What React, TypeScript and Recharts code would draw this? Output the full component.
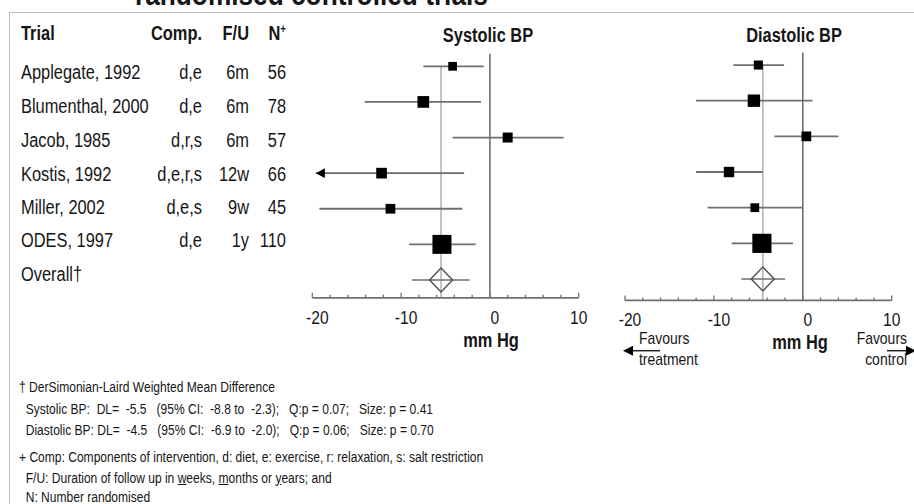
import React from 'react';
import { ScatterChart, Scatter, XAxis, YAxis, ReferenceLine } from 'recharts';

// ---------- data ----------
const trialNames = ['Applegate, 1992', 'Blumenthal, 2000', 'Jacob, 1985', 'Kostis, 1992', 'Miller, 2002', 'ODES, 1997'];
const components = ['d,e', 'd,e', 'd,r,s', 'd,e,r,s', 'd,e,s', 'd,e'];
const followUps = ['6m', '6m', '6m', '12w', '9w', '1y'];
const randomised = ['56', '78', '57', '66', '45', '110'];
const overallLabel = 'Overall\u2020';

const sysEst = [-4.2, -7.5, 2.0, -12.2, -11.2, -5.4];
const sysLow = [-7.5, -14.1, -4.2, -22.0, -19.2, -9.1];
const sysHigh = [-0.7, -1.0, 8.3, -2.9, -3.1, -1.6];
const sysWeight = [8.6, 15.5, 11.3, 12.9, 10.7, 40.9];
const sysOverall = [-5.5, -8.8, -2.3];

const diaEst = [-5.0, -5.5, 0.4, -8.3, -5.4, -4.6];
const diaLow = [-7.8, -12.0, -3.2, -12.0, -10.7, -8.0];
const diaHigh = [-2.1, 1.1, 4.0, -4.5, 0.0, -1.1];
const diaWeight = [9.3, 17.4, 10.8, 12.2, 8.7, 41.5];
const diaOverall = [-4.5, -6.9, -2.0];

const xTicks = [-20, -18, -16, -14, -12, -10, -8, -6, -4, -2, 0, 2, 4, 6, 8, 10];
const xDomain = [-20, 10];
const arrowLimit = -19.6;

const footnotes = [
  '\u2020 DerSimonian-Laird Weighted Mean Difference',
  '  Systolic BP:  DL=  -5.5   (95% CI:  -8.8 to  -2.3);   Q:p = 0.07;   Size: p = 0.41',
  '  Diastolic BP: DL=  -4.5   (95% CI:  -6.9 to  -2.0);   Q:p = 0.06;   Size: p = 0.70',
  '+ Comp: Components of intervention, d: diet, e: exercise, r: relaxation, s: salt restriction',
];

// ---------- styling ----------
const FONT = "'Liberation Sans', Arial, sans-serif";
const NARROW = 0.82;
const TXT = '#161616';
const LINE = '#6f6f6f';

type Study = { x: number; y: number; low: number; high: number; weight: number };

function buildStudies(est: number[], low: number[], high: number[], w: number[]): Study[] {
  return est.map((e, i) => ({ x: e, y: i + 1, low: low[i], high: high[i], weight: w[i] }));
}

const SquareShape = (props: any) => {
  const { cx, cy, payload } = props;
  const side = 2.97 * Math.sqrt(payload.weight);
  return <rect x={cx - side / 2} y={cy - side / 2} width={side} height={side} fill="#000" />;
};

const DiamondShape = (props: any) => {
  const { cx, cy } = props;
  return (
    <path
      d={`M${cx},${cy - 12} L${cx + 11.5},${cy} L${cx},${cy + 12} L${cx - 11.5},${cy} Z`}
      fill="none"
      stroke="#555"
      strokeWidth={1.5}
    />
  );
};

const LeftArrowShape = (props: any) => {
  const { cx, cy } = props;
  return <path d={`M${cx},${cy} L${cx + 9},${cy - 4.8} L${cx + 9},${cy + 4.8} Z`} fill="#000" />;
};

const AxisTick = (props: any) => {
  const { x, y, payload } = props;
  const v = payload.value;
  const major = v % 10 === 0;
  return (
    <g>
      <line x1={x} y1={y} x2={x} y2={y - (major ? 5 : 3)} stroke={LINE} strokeWidth={1.3} />
      {major && (
        <text
          transform={`translate(${x + (v <= 0 ? 5 : 0)} ${y + 26}) scale(${NARROW} 1)`}
          textAnchor="middle"
          fontSize={19}
          fontFamily={FONT}
          fill={TXT}
        >
          {v}
        </text>
      )}
    </g>
  );
};

type PanelProps = {
  est: number[]; low: number[]; high: number[]; weight: number[]; overall: number[];
  left: number; marginLeft: number; marginRight: number; marginTop: number; marginBottom: number; yMax: number;
};

const Panel = ({ est, low, high, weight, overall, left, marginLeft, marginRight, marginTop, marginBottom, yMax }: PanelProps) => {
  const studies = buildStudies(est, low, high, weight);
  const overallRow = studies.length + 1;
  const overallPoint = [{ x: overall[0], y: overallRow }];
  const arrows = studies.filter((s) => s.low < xDomain[0]).map((s) => ({ x: arrowLimit, y: s.y }));
  return (
    <div style={{ position: 'absolute', left, top: 0 }}>
      <ScatterChart
        width={300}
        height={370}
        margin={{ top: marginTop, right: marginRight, bottom: marginBottom, left: marginLeft }}
      >
        <XAxis
          type="number"
          dataKey="x"
          domain={xDomain}
          ticks={xTicks}
          interval={0}
          allowDataOverflow
          tickLine={false}
          tickSize={0}
          tickMargin={0}
          height={40}
          axisLine={{ stroke: LINE, strokeWidth: 1.8 }}
          tick={<AxisTick />}
        />
        <YAxis type="number" dataKey="y" domain={[0.5, yMax]} reversed hide allowDataOverflow />
        <ReferenceLine segment={[{ x: 0, y: 0.65 }, { x: 0, y: yMax }]} stroke={LINE} strokeWidth={1.6} />
        <ReferenceLine segment={[{ x: overall[0], y: 1 }, { x: overall[0], y: yMax }]} stroke="#b4b4b4" strokeWidth={1.6} />
        {studies.map((s) => (
          <ReferenceLine
            key={`ci${s.y}`}
            segment={[{ x: Math.max(s.low, arrowLimit), y: s.y }, { x: s.high, y: s.y }]}
            stroke={LINE}
            strokeWidth={1.8}
          />
        ))}
        <ReferenceLine
          segment={[{ x: overall[1], y: overallRow }, { x: overall[2], y: overallRow }]}
          stroke={LINE}
          strokeWidth={1.6}
        />
        <Scatter data={arrows} shape={<LeftArrowShape />} isAnimationActive={false} />
        <Scatter data={studies} shape={<SquareShape />} isAnimationActive={false} />
        <Scatter data={overallPoint} shape={<DiamondShape />} isAnimationActive={false} />
      </ScatterChart>
    </div>
  );
};

type TProps = {
  x: number; y: number; size: number; align?: 'left' | 'right' | 'center'; bold?: boolean; lh?: number;
  children: React.ReactNode;
};

// narrow (condensed) text, anchored at x, vertically centred at y
const T = ({ x, y, size, align = 'left', bold = false, lh, children }: TProps) => {
  const W = 700;
  const lineH = lh ?? Math.round(size * 1.2);
  const left = align === 'left' ? x : align === 'right' ? x - W : x - W / 2;
  return (
    <div
      style={{
        position: 'absolute',
        left,
        top: y - lineH / 2,
        width: W,
        height: lineH,
        textAlign: align,
        whiteSpace: 'pre',
        fontFamily: FONT,
        fontSize: size,
        fontWeight: bold ? 'bold' : 'normal',
        lineHeight: `${lineH}px`,
        color: TXT,
        transform: `scaleX(${NARROW})`,
        transformOrigin: align === 'left' ? 'left center' : align === 'right' ? 'right center' : 'center center',
      }}
    >
      {children}
    </div>
  );
};

export default function App() {
  const rowCenters = [71.7, 106, 139.5, 173.5, 207, 240, 274];
  const colRight = { comp: 202, fu: 249, n: 286 };
  const fs = 20;
  const ffs = 14.7;
  return (
    <div style={{ position: 'absolute', left: 0, top: 0, width: 914, height: 504, background: '#fff', overflow: 'hidden' }}>
      {/* frame */}
      <div style={{ position: 'absolute', left: 9, top: 12, width: 905, height: 0, borderTop: '1.5px solid #bdbdbd' }} />
      <div style={{ position: 'absolute', left: 9, top: 12, width: 0, height: 492, borderLeft: '1.5px solid #bdbdbd' }} />
      {/* title, cut off at the top edge as in the source image */}
      <T x={135} y={-6.5} size={32} bold lh={22}>randomised controlled trials</T>

      {/* table header */}
      <T x={21} y={33} size={fs} bold>Trial</T>
      <T x={colRight.comp} y={33} size={fs} bold align="right">Comp.</T>
      <T x={colRight.fu} y={33} size={fs} bold align="right">F/U</T>
      <T x={colRight.n} y={33} size={fs} bold align="right">
        N<sup style={{ fontSize: 12, verticalAlign: 'top', lineHeight: '16px' }}>+</sup>
      </T>
      {trialNames.map((t, i) => (
        <React.Fragment key={t}>
          <T x={21} y={rowCenters[i]} size={fs}>{t}</T>
          <T x={colRight.comp} y={rowCenters[i]} size={fs} align="right">{components[i]}</T>
          <T x={colRight.fu} y={rowCenters[i]} size={fs} align="right">{followUps[i]}</T>
          <T x={colRight.n} y={rowCenters[i]} size={fs} align="right">{randomised[i]}</T>
        </React.Fragment>
      ))}
      <T x={21} y={rowCenters[6]} size={fs}>{overallLabel}</T>

      {/* panels */}
      <Panel est={sysEst} low={sysLow} high={sysHigh} weight={sysWeight} overall={sysOverall}
        left={300} marginLeft={12.3} marginRight={21.3} marginTop={48.5} marginBottom={32.2} yMax={7.5} />
      <Panel est={diaEst} low={diaLow} high={diaHigh} weight={diaWeight} overall={diaOverall}
        left={610} marginLeft={15} marginRight={18.3} marginTop={47.2} marginBottom={29.6} yMax={7.6} />

      {/* panel titles */}
      <T x={488} y={35} size={fs} bold align="center">Systolic BP</T>
      <T x={793.5} y={35} size={fs} bold align="center">Diastolic BP</T>
      <T x={491.3} y={340} size={fs} bold align="center">mm Hg</T>
      <T x={799.5} y={341.5} size={fs} bold align="center">mm Hg</T>

      {/* favours */}
      <T x={639} y={339} size={17}>Favours</T>
      <T x={639} y={360} size={17}>treatment</T>
      <T x={907} y={339} size={17} align="right">Favours</T>
      <T x={907} y={360} size={17} align="right">control</T>
      <svg style={{ position: 'absolute', left: 0, top: 0 }} width={914} height={504} pointerEvents="none">
        <line x1={630} y1={350.7} x2={660} y2={350.7} stroke="#222" strokeWidth={1.5} />
        <path d="M623,350.7 L633,345.7 L633,355.7 Z" fill="#000" />
        <line x1={887} y1={350.7} x2={908} y2={350.7} stroke="#222" strokeWidth={1.5} />
        <path d="M916,350.7 L906,345.7 L906,355.7 Z" fill="#000" />
      </svg>

      {/* footnotes */}
      <T x={19} y={386.7} size={ffs} lh={14}>{footnotes[0]}</T>
      <T x={19} y={409} size={ffs} lh={14}>{footnotes[1]}</T>
      <T x={19} y={430} size={ffs} lh={14}>{footnotes[2]}</T>
      <T x={19} y={456.7} size={ffs} lh={14}>{footnotes[3]}</T>
      <T x={19} y={477.7} size={ffs} lh={14}>
        {'  F/U: Duration of follow up in '}<u>w</u>{'eeks, '}<u>m</u>{'onths or '}<u>y</u>{'ears; and'}
      </T>
      <T x={19} y={497} size={ffs} lh={12}>{'  N: Number randomised'}</T>
    </div>
  );
}
